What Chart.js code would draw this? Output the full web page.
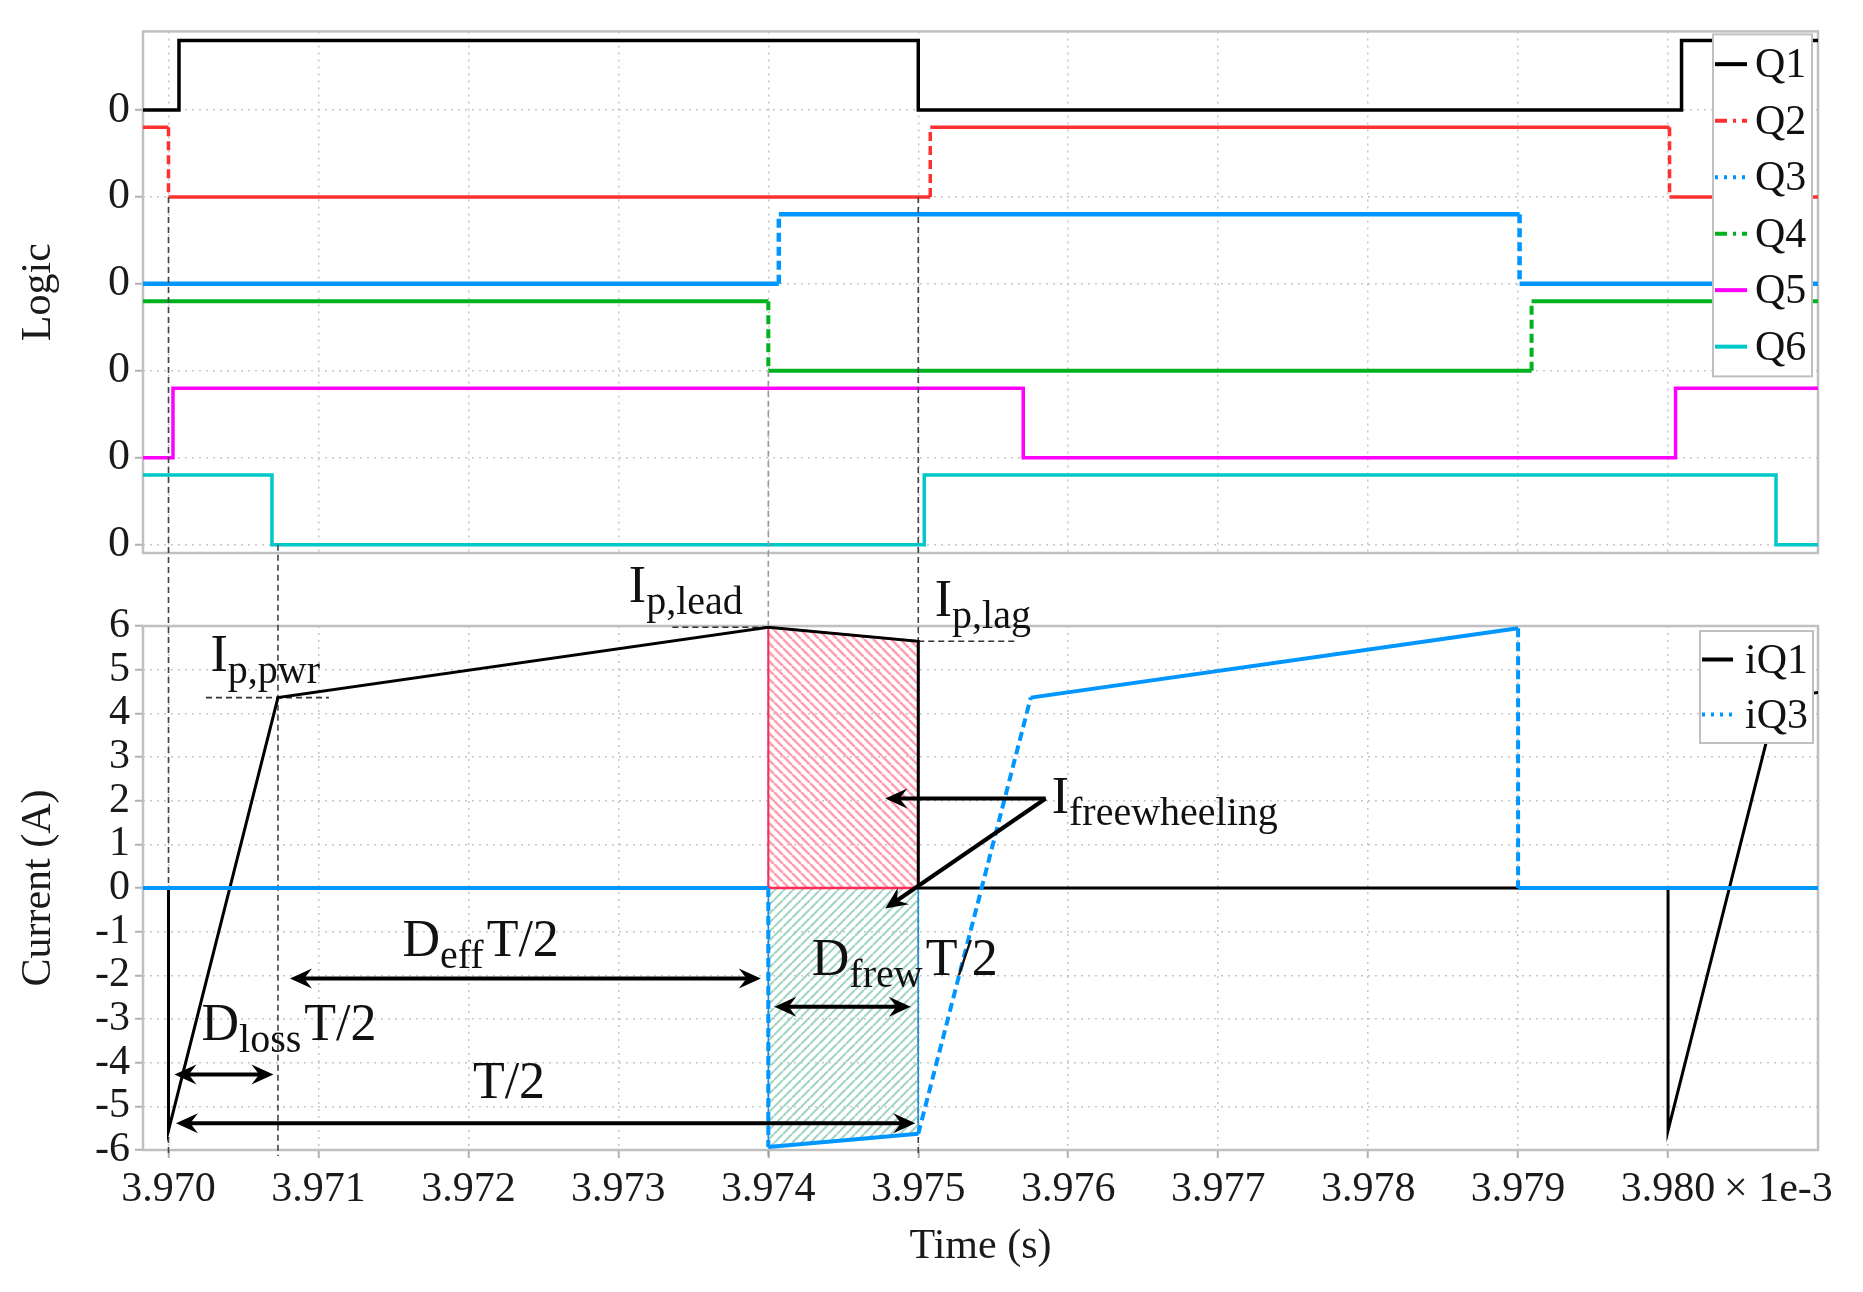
<!DOCTYPE html>
<html>
<head>
<meta charset="utf-8">
<title>Gate logic and switch currents</title>
<script src="https://cdn.jsdelivr.net/npm/chart.js@4.4.1/dist/chart.umd.min.js"></script>
<style>
  html, body { margin: 0; background: #fff; }
  #wrap { position: relative; width: 1863px; height: 1292px; }
  #wrap canvas { position: absolute; left: 0; top: 0; }
</style>
</head>
<body>
<div id="wrap">
  <canvas id="logicChart" width="1863" height="1292"></canvas>
  <canvas id="currentChart" width="1863" height="1292"></canvas>
</div>
<script>
// ===== Data (time in ms, axis shows x 1e-3 s) =====
const T_MIN = 3.96983;
const T_MAX = 3.981;
const timeTicks = [3.970, 3.971, 3.972, 3.973, 3.974, 3.975, 3.976, 3.977, 3.978, 3.979, 3.980];

const gateNames = ["Q1", "Q2", "Q3", "Q4", "Q5", "Q6"];
const gateStart = [0, 1, 0, 1, 0, 1];            // logic level at left edge
const q1Edges = [3.97007, 3.97500, 3.98009];     // switching instants
const q2Edges = [3.97000, 3.97508, 3.98001];
const q3Edges = [3.97407, 3.97901];
const q4Edges = [3.97400, 3.97909];
const q5Edges = [3.97003, 3.97570, 3.98005];
const q6Edges = [3.97069, 3.97504, 3.98072];
const gateEdges = [q1Edges, q2Edges, q3Edges, q4Edges, q5Edges, q6Edges];

const iQ1Time = [T_MIN, 3.970, 3.970, 3.97073, 3.974, 3.975, 3.975, 3.980, 3.980, 3.98073, T_MAX];
const iQ1Amp  = [0, 0, -5.55, 4.36, 5.97, 5.65, 0, 0, -5.55, 4.36, 4.48];
const iQ3Time = [T_MIN, 3.974, 3.974, 3.975, 3.97575, 3.979, 3.979, T_MAX];
const iQ3Amp  = [0, 0, -5.93, -5.63, 4.36, 5.95, 0, 0];
const currentTicks = [-6, -5, -4, -3, -2, -1, 0, 1, 2, 3, 4, 5, 6];

const frewWindow = [3.974, 3.975];

// ===== Styles =====
const FONT = "'Liberation Serif', 'Times New Roman', serif";
const LANE = 1.25;
const gateColors = ["#000000", "#ff3030", "#0096ff", "#00b21e", "#ff00ff", "#00c8c8"];
const gateWidths = [3.5, 3.5, 4.5, 4, 3.5, 3.5];
const gateLegendDash = [[], [12, 6, 3, 6], [3, 6], [12, 6, 3, 6], [], []];
const gateSteepDash = [null, [9, 5], [9, 5], [9, 5], null, null];
const GRID = "#c6c6c6";
const FRAME = "#c0c0c0";

Chart.defaults.font.family = FONT;
Chart.defaults.color = "#1a1a1a";

// vertical / steep parts of broken-style traces show as dashes
const steepDash = dash => ({
  borderDash: c => (dash && Math.abs(c.p1.x - c.p0.x) < Math.abs(c.p1.y - c.p0.y)) ? dash : []
});

function stepPoints(edges, start, base) {
  let lvl = start;
  const pts = [{ x: T_MIN, y: base + lvl }];
  edges.forEach(t => {
    pts.push({ x: t, y: base + lvl });
    lvl = 1 - lvl;
    pts.push({ x: t, y: base + lvl });
  });
  pts.push({ x: T_MAX, y: base + lvl });
  return pts;
}

const zip = (xs, ys) => xs.map((x, i) => ({ x, y: ys[i] }));

// outline of the freewheeling area under a current trace
function windowArea(xs, ys, sign) {
  const [a, b] = frewWindow;
  const inner = zip(xs, ys).filter(p => p.x >= a && p.x <= b && p.y * sign > 0);
  return [{ x: a, y: 0 }, ...inner, { x: b, y: 0 }];
}

function hatch(color, width, dir) {
  const c = document.createElement("canvas");
  const n = 9;
  c.width = c.height = n;
  const g = c.getContext("2d");
  g.strokeStyle = color; g.lineWidth = width;
  g.beginPath();
  for (let k = -1; k <= 1; k++) {
    if (dir > 0) { g.moveTo(k * n, n); g.lineTo(k * n + n, 0); }
    else { g.moveTo(k * n, 0); g.lineTo(k * n + n, n); }
  }
  g.stroke();
  return g.createPattern(c, "repeat");
}

// ===== Shared plugins =====
const framePlugin = {
  id: "frame",
  beforeDatasetsDraw(chart) {
    const { ctx, chartArea: a } = chart;
    ctx.save();
    ctx.strokeStyle = FRAME; ctx.lineWidth = 2.5;
    ctx.strokeRect(a.left, a.top, a.right - a.left, a.bottom - a.top);
    ctx.restore();
  }
};

const boxLegend = {
  id: "boxLegend",
  afterDraw(chart, args, o) {
    const { ctx, chartArea: a } = chart;
    const sets = chart.data.datasets.filter(d => d.label);
    const right = a.right - o.inset, top = a.top + o.insetTop;
    const left = right - o.width, h = sets.length * o.row + o.pad * 2;
    ctx.save();
    ctx.fillStyle = "#fff";
    ctx.fillRect(left, top, o.width, h);
    ctx.strokeStyle = FRAME; ctx.lineWidth = 2;
    ctx.strokeRect(left, top, o.width, h);
    ctx.font = o.font + "px " + FONT;
    ctx.textBaseline = "middle";
    sets.forEach((d, i) => {
      const y = top + o.pad + o.row * (i + 0.5);
      ctx.strokeStyle = d.borderColor; ctx.lineWidth = 4;
      ctx.setLineDash(d.legendDash || []);
      ctx.beginPath(); ctx.moveTo(left + 2, y); ctx.lineTo(left + 2 + o.sample, y); ctx.stroke();
      ctx.setLineDash([]);
      ctx.fillStyle = "#111";
      ctx.fillText(d.label, left + o.textX, y + 2);
    });
    ctx.restore();
  }
};

// ===== Logic chart =====
const logicChart = new Chart(document.getElementById("logicChart"), {
  type: "line",
  data: {
    datasets: gateNames.map((name, i) => ({
      label: name,
      data: stepPoints(gateEdges[i], gateStart[i], (5 - i) * LANE),
      borderColor: gateColors[i],
      borderWidth: gateWidths[i],
      borderDash: [1, 0],          // keeps per-segment dashing on the normal path
      pointRadius: 0,
      tension: 0,
      segment: steepDash(gateSteepDash[i]),
      legendDash: gateLegendDash[i],
      order: i
    }))
  },
  options: {
    responsive: false, animation: false, events: [],
    layout: { padding: { top: 30, right: 45, bottom: 1292 - 553, left: 0 } },
    plugins: {
      legend: { display: false }, tooltip: { enabled: false },
      boxLegend: { inset: 6, insetTop: 3, width: 99, row: 56.5, pad: 1.5, sample: 32, textX: 42, font: 42 }
    },
    scales: {
      x: {
        type: "linear", min: T_MIN, max: T_MAX,
        afterBuildTicks: s => { s.ticks = timeTicks.map(v => ({ value: v })); },
        afterFit: s => { s.height = 0; },
        ticks: { display: false },
        grid: { color: GRID, lineWidth: 1.5, drawTicks: false },
        border: { display: false, dash: [2, 5] }
      },
      y: {
        min: -0.12, max: 7.38,
        afterBuildTicks: s => { s.ticks = gateNames.map((n, i) => ({ value: (5 - i) * LANE })); },
        afterFit: s => { s.width = 143; },
        ticks: { callback: () => "0", font: { size: 44 }, padding: 5, autoSkip: false },
        grid: { color: GRID, lineWidth: 1.5, tickLength: 8, tickColor: "#b0b0b0", tickWidth: 2 },
        border: { display: false, dash: [2, 5] },
        title: { display: true, text: "Logic", font: { size: 42 }, padding: { top: 14 }, color: "#1a1a1a" }
      }
    }
  },
  plugins: [framePlugin, boxLegend]
});

// ===== Annotations for the current panel =====
const guideLines = [
  { t: 3.970,   gate: 1, color: "#444" },
  { t: 3.97073, gate: 5, color: "#444" },
  { t: 3.974,   gate: 3, color: "#999" },
  { t: 3.975,   gate: 1, color: "#444" }
];
const leaderLines = [
  { t0: 3.97025, t1: 3.97107, a: 4.36 },
  { t0: 3.97336, t1: 3.97400, a: 5.97 },
  { t0: 3.97500, t1: 3.97565, a: 5.65 }
];
const dimArrows = [
  { t0: 3.97081, t1: 3.97395, a: -2.07 },
  { t0: 3.97404, t1: 3.97495, a: -2.72 },
  { t0: 3.97004, t1: 3.97070, a: -4.27 },
  { t0: 3.97005, t1: 3.97498, a: -5.39 }
];
const pointerArrows = [
  { from: [3.97585, 2.05], to: [3.97478, 2.05] },
  { from: [3.97585, 2.05], to: [3.97478, -0.47] }
];
const labels = [
  { t: 3.97028, a: 4.98,  parts: [["I"], ["p,pwr", 1]] },
  { t: 3.97307, a: 6.56,  parts: [["I"], ["p,lead", 1]] },
  { t: 3.97511, a: 6.22,  parts: [["I"], ["p,lag", 1]] },
  { t: 3.97589, a: 1.72,  parts: [["I"], ["freewheeling", 1]] },
  { t: 3.97156, a: -1.56, parts: [["D"], ["eff", 1], ["T/2"]] },
  { t: 3.97429, a: -2.00, parts: [["D"], ["frew", 1], ["T/2"]] },
  { t: 3.97022, a: -3.49, parts: [["D"], ["loss", 1], ["T/2"]] },
  { t: 3.97203, a: -4.82, parts: [["T/2"]] }
];

function arrowHead(ctx, x, y, ang) {
  const L = 22, W = 10;
  const c = Math.cos(ang), s = Math.sin(ang);
  ctx.beginPath();
  ctx.moveTo(x, y);
  ctx.lineTo(x - L * c + W * s, y - L * s - W * c);
  ctx.lineTo(x - 0.65 * L * c, y - 0.65 * L * s);
  ctx.lineTo(x - L * c - W * s, y - L * s + W * c);
  ctx.closePath();
  ctx.fill();
}

function arrow(ctx, x0, y0, x1, y1, both) {
  const ang = Math.atan2(y1 - y0, x1 - x0);
  const c = Math.cos(ang) * 12, s = Math.sin(ang) * 12;
  ctx.beginPath();
  ctx.moveTo(both ? x0 + c : x0, both ? y0 + s : y0);
  ctx.lineTo(x1 - c, y1 - s);
  ctx.stroke();
  arrowHead(ctx, x1, y1, ang);
  if (both) arrowHead(ctx, x0, y0, ang + Math.PI);
}

const annotate = {
  id: "annotate",
  beforeDatasetsDraw(chart) {
    const { ctx, scales: { x, y }, chartArea: a } = chart;
    const ly = logicChart.scales.y;
    ctx.save();
    ctx.lineWidth = 1.6;
    ctx.setLineDash([6, 4]);
    guideLines.forEach(g => {
      const px = x.getPixelForValue(g.t);
      ctx.strokeStyle = g.color;
      ctx.beginPath();
      ctx.moveTo(px, ly.getPixelForValue((5 - g.gate) * LANE));
      ctx.lineTo(px, a.bottom + 6);
      ctx.stroke();
    });
    ctx.strokeStyle = "#333";
    leaderLines.forEach(l => {
      ctx.beginPath();
      ctx.moveTo(x.getPixelForValue(l.t0), y.getPixelForValue(l.a));
      ctx.lineTo(x.getPixelForValue(l.t1), y.getPixelForValue(l.a));
      ctx.stroke();
    });
    ctx.restore();
  },
  afterDraw(chart) {
    const { ctx, scales: { x, y } } = chart;
    ctx.save();
    ctx.strokeStyle = "#000"; ctx.fillStyle = "#000"; ctx.lineWidth = 4;
    dimArrows.forEach(d => {
      const py = y.getPixelForValue(d.a);
      arrow(ctx, x.getPixelForValue(d.t0), py, x.getPixelForValue(d.t1), py, true);
    });
    pointerArrows.forEach(p => {
      arrow(ctx, x.getPixelForValue(p.from[0]), y.getPixelForValue(p.from[1]),
        x.getPixelForValue(p.to[0]), y.getPixelForValue(p.to[1]), false);
    });
    ctx.textBaseline = "alphabetic";
    ctx.fillStyle = "#111";
    labels.forEach(l => {
      let cx = x.getPixelForValue(l.t);
      const by = y.getPixelForValue(l.a);
      l.parts.forEach(([text, sub]) => {
        ctx.font = (sub ? 40 : 52) + "px " + FONT;
        ctx.fillText(text, cx, by + (sub ? 12 : 0));
        cx += ctx.measureText(text).width + (sub ? 3 : 0);
      });
    });
    // axis multiplier
    ctx.font = "42px " + FONT;
    ctx.textBaseline = "middle";
    ctx.fillStyle = "#1a1a1a";
    ctx.fillText("\u00d7 1e-3", x.getPixelForValue(timeTicks[timeTicks.length - 1]) + 56, chart.chartArea.bottom + 40);
    ctx.restore();
  }
};

// ===== Current chart =====
const currentChart = new Chart(document.getElementById("currentChart"), {
  type: "line",
  data: {
    datasets: [
      {
        label: "iQ1", data: zip(iQ1Time, iQ1Amp),
        borderColor: "#000", borderWidth: 3, pointRadius: 0, tension: 0,
        legendDash: [], order: 1
      },
      {
        label: "iQ3", data: zip(iQ3Time, iQ3Amp),
        borderColor: "#0096ff", borderWidth: 4, borderDash: [1, 0], pointRadius: 0, tension: 0,
        segment: steepDash([9, 5]), legendDash: [3, 6], order: 0
      },
      {
        data: windowArea(iQ1Time, iQ1Amp, 1),
        borderColor: "#ff2a55", borderWidth: 2, pointRadius: 0, tension: 0,
        backgroundColor: hatch("#ffa0b2", 2.6, -1), fill: "origin", order: 5
      },
      {
        data: windowArea(iQ3Time, iQ3Amp, -1),
        borderColor: "#1a8fe0", borderWidth: 1.5, pointRadius: 0, tension: 0,
        backgroundColor: hatch("#a3d6c4", 2.2, 1), fill: "origin", order: 6
      },
      {
        // lower edge of the positive freewheeling area
        data: frewWindow.map(t => ({ x: t, y: 0 })),
        borderColor: "#ff2a55", borderWidth: 2.5, pointRadius: 0, order: 4
      }
    ]
  },
  options: {
    responsive: false, animation: false, events: [],
    layout: { padding: { top: 626, right: 45, bottom: 0, left: 0 } },
    plugins: {
      legend: { display: false }, tooltip: { enabled: false },
      boxLegend: { inset: 5, insetTop: 5, width: 113, row: 55, pad: 1, sample: 31, textX: 45, font: 42 }
    },
    scales: {
      x: {
        type: "linear", min: T_MIN, max: T_MAX,
        afterBuildTicks: s => { s.ticks = timeTicks.map(v => ({ value: v })); },
        afterFit: s => { s.height = 1292 - 1150; },
        ticks: { callback: v => v.toFixed(3), font: { size: 42 }, padding: 7, maxRotation: 0, autoSkip: false },
        grid: { color: GRID, lineWidth: 1.5, tickLength: 8, tickColor: "#b0b0b0", tickWidth: 2 },
        border: { display: false, dash: [2, 5] },
        title: { display: true, text: "Time (s)", font: { size: 42 }, padding: { bottom: 20 }, color: "#1a1a1a" }
      },
      y: {
        min: -6, max: 6,
        afterBuildTicks: s => { s.ticks = currentTicks.map(v => ({ value: v })); },
        afterFit: s => { s.width = 143; },
        ticks: { font: { size: 42 }, padding: 5, autoSkip: false },
        grid: { color: GRID, lineWidth: 1.5, tickLength: 8, tickColor: "#b0b0b0", tickWidth: 2 },
        border: { display: false, dash: [2, 5] },
        title: { display: true, text: "Current (A)", font: { size: 42 }, padding: { top: 14 }, color: "#1a1a1a" }
      }
    }
  },
  plugins: [framePlugin, annotate, boxLegend]
});
</script>
</body>
</html>
